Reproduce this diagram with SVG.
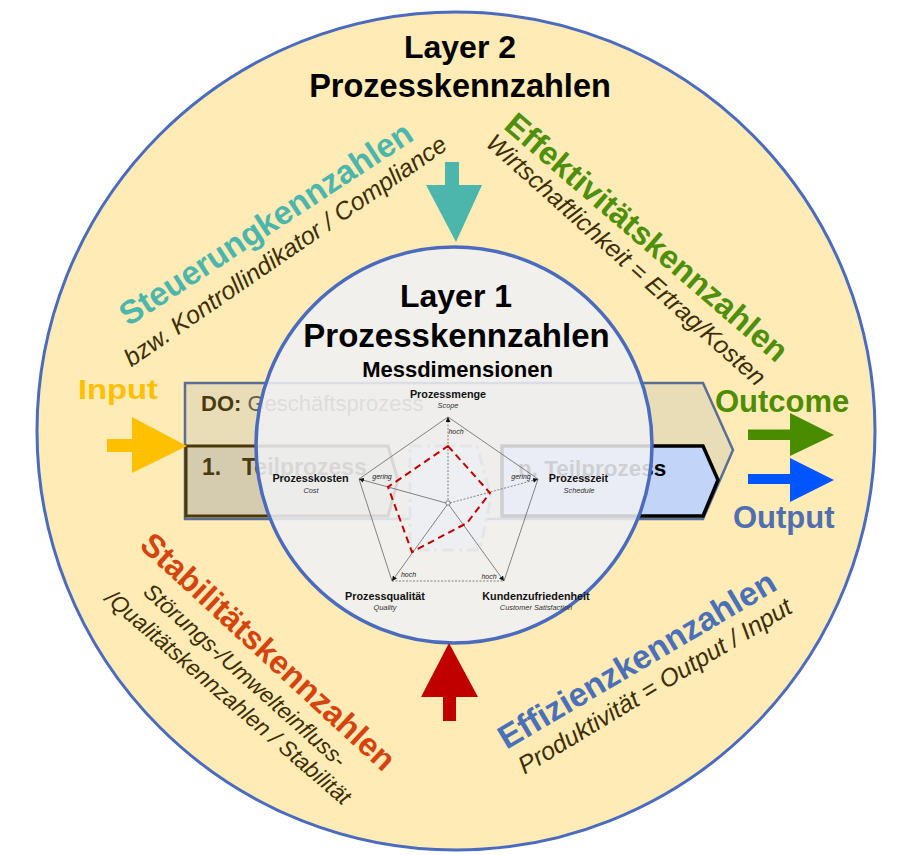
<svg xmlns="http://www.w3.org/2000/svg" width="898" height="855" viewBox="0 0 898 855">
<style>
text{font-family:"Liberation Sans",Arial,sans-serif}
.b{font-weight:bold}
.i{font-style:italic}
.m{text-anchor:middle}
.desc{font-style:italic;fill:#3D2E05;text-anchor:middle}
.big{font-weight:bold;text-anchor:middle}
.rl{font-size:10.8px;font-weight:bold;fill:#111;text-anchor:middle}
.rs{font-size:7.4px;font-style:italic;fill:#333;text-anchor:middle}
.rh{font-size:7px;font-style:italic;fill:#222;text-anchor:middle}
.ln{stroke:#666;stroke-width:0.8;fill:none}
.dt{stroke-dasharray:2 1.5}
</style>
<defs>
<marker id="ah" viewBox="0 0 6 6" refX="6" refY="3" markerWidth="5" markerHeight="5" orient="auto" markerUnits="userSpaceOnUse">
<path d="M0,0 L6,3 L0,6 Z" fill="#111"/>
</marker>
</defs>
<rect width="898" height="855" fill="#FFFFFF"/>
<g id="layer2">
<circle cx="456" cy="431" r="419" fill="#FFEBB6" stroke="#4A6BBE" stroke-width="3"/>
<text class="big" x="460" y="58" font-size="32">Layer 2</text>
<text class="big" x="460" y="97" font-size="32.5">Prozesskennzahlen</text>
</g>
<g id="process">
<polygon points="185,383 703,383 733,450 703,519 185,519" fill="#E8DDB6" stroke="#5B6E96" stroke-width="2.5"/>
<text x="201" y="411" font-size="22" fill="#4A3A10"><tspan class="b">DO:</tspan><tspan fill="#6A5E45"> Geschäftsprozess</tspan></text>
<polygon points="186,446 388,446 398,480 388,516 186,516" fill="#D5CCAF" stroke="#4A3A0A" stroke-width="3"/>
<text class="b" y="475" font-size="23" fill="#4A3A10"><tspan x="202">1.</tspan><tspan x="242">Teilprozess</tspan></text>
<polygon points="410,446 477,446 491,497 480,550 410,550" fill="#DEDEDE" stroke="#999999" stroke-width="3" stroke-dasharray="12 5 3 5"/>
<polygon points="502,446 703,446 718,480 703,516 502,516" fill="#C2D5F8" stroke="#000" stroke-width="3.5"/>
<text class="b" x="518" y="476" font-size="22.5" fill="#000">n. Teilprozess</text>
</g>
<g id="layer1">
<circle cx="454" cy="445" r="198" fill="#F0F1F4" fill-opacity="0.86" stroke="#4A6BBE" stroke-width="3.5"/>
<text class="big" x="456" y="307" font-size="32">Layer 1</text>
<text class="big" x="456.5" y="347" font-size="33">Prozesskennzahlen</text>
<text class="big" x="457.5" y="377" font-size="22">Messdimensionen</text>
</g>
<g id="radar">
<polyline class="ln" points="359,479 448,417 538,479"/>
<line class="ln" x1="359" y1="479" x2="392" y2="581"/>
<line class="ln" x1="538" y1="479" x2="504" y2="581"/>
<line class="ln dt" x1="392" y1="581" x2="504" y2="581"/>
<line class="ln dt" x1="448" y1="500" x2="448" y2="417" marker-end="url(#ah)"/>
<line class="ln" x1="446" y1="503" x2="359" y2="479" marker-end="url(#ah)"/>
<line class="ln dt" x1="450" y1="503" x2="538" y2="479" marker-end="url(#ah)"/>
<line class="ln" x1="447" y1="505" x2="392" y2="581" marker-end="url(#ah)"/>
<line class="ln" x1="449" y1="505" x2="504" y2="581" marker-end="url(#ah)"/>
<circle cx="448" cy="503" r="2.2" fill="#fff" stroke="#555" stroke-width="0.8"/>
<polygon points="448,446 490,493 467,523 412,552 388,487" fill="none" stroke="#C00000" stroke-width="2" stroke-dasharray="7 4.5"/>
<text class="rl" x="448" y="398">Prozessmenge</text>
<text class="rs" x="448" y="408">Scope</text>
<text class="rh" x="456" y="434">hoch</text>
<text class="rl" x="310.5" y="482">Prozesskosten</text>
<text class="rs" x="311" y="493">Cost</text>
<text class="rh" x="382" y="479">gering</text>
<text class="rl" x="578.5" y="482">Prozesszeit</text>
<text class="rs" x="579" y="493">Schedule</text>
<text class="rh" x="521" y="479">gering</text>
<text class="rh" x="408.5" y="577">hoch</text>
<text class="rh" x="489" y="579">hoch</text>
<text class="rl" x="385" y="600">Prozessqualität</text>
<text class="rs" x="385" y="610">Quality</text>
<text class="rl" x="536" y="600">Kundenzufriedenheit</text>
<text class="rs" x="536" y="610">Customer Satisfaction</text>
</g>
<g id="steuerung">
<text class="big" font-size="33" fill="#4DB6AC" transform="translate(272,233) rotate(-33.2)">Steuerungkennzahlen</text>
<text class="desc" font-size="24.8" transform="translate(290,258) rotate(-34.6)">bzw. Kontrollindikator / Compliance</text>
</g>
<g id="effektivitaet">
<text class="big" font-size="32.5" fill="#4E8F0B" transform="translate(639.5,245.6) rotate(40.7)">Effektivitätskennzahlen</text>
<text class="desc" font-size="24.7" transform="translate(620.5,266) rotate(41.7)">Wirtschaftlichkeit = Ertrag/Kosten</text>
</g>
<g id="stabilitaet">
<text class="big" font-size="32.6" fill="#D5440E" transform="translate(260.7,659.9) rotate(42.7)">Stabilitätskennzahlen</text>
<text class="desc" font-size="22.5" transform="translate(240,681) rotate(41.8)">Störungs-/Umwelteinfluss-</text>
<text class="desc" font-size="22.5" transform="translate(223.2,703.1) rotate(40.7)">/Qualitätskennzahlen / Stabilität</text>
</g>
<g id="effizienz">
<text class="big" font-size="33.3" fill="#4A70B8" transform="translate(642.6,669.5) rotate(-30.6)">Effizienzkennzahlen</text>
<text class="desc" font-size="24.8" transform="translate(659.3,693.2) rotate(-31.2)">Produktivität = Output / Input</text>
</g>
<g id="io">
<text class="b" x="78" y="399" font-size="28" fill="#FFC000" textLength="80" lengthAdjust="spacingAndGlyphs">Input</text>
<text class="b" x="715" y="412" font-size="31" fill="#4E8C00">Outcome</text>
<text class="b" x="733" y="528" font-size="31" fill="#4F6FB0">Output</text>
</g>
<g id="connectors">
<polygon points="107,439 132,439 132,417 187,446 132,473 132,452 107,452" fill="#FFC000"/>
<polygon points="445,162 459,162 459,185 482,185 456,242 426,185 445,185" fill="#4DB6AC"/>
<polygon points="449,643 478,697 456,697 456,721 443,721 443,697 421,697" fill="#C00000"/>
<polygon points="748,429.5 790,429.5 790,413 834,435 790,456 790,440 748,440" fill="#4A8C00"/>
<polygon points="748,474 790,474 790,458 834,480 790,502 790,484 748,484" fill="#0055FF"/>
</g>
</svg>
